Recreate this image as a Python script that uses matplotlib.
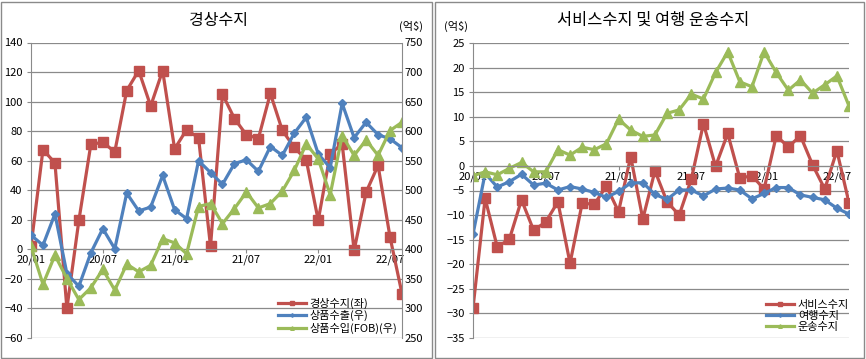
import matplotlib
matplotlib.use("Agg")
import matplotlib.pyplot as plt
from matplotlib.patches import Rectangle

plt.rcParams['font.family'] = ['Noto Sans CJK KR', 'DejaVu Sans']

# monthly data 20/01 ~ 22/08
x = list(range(32))
tick_pos = [0, 6, 12, 18, 24, 30]
tick_labels = ['20/01', '20/07', '21/01', '21/07', '22/01', '22/07']

current = [2, 67.5, 58.5, -40, 19.6, 71, 72.5, 66, 107.5, 121, 97, 121, 68, 81, 75.5, 2,
           105, 88.5, 77.5, 75, 105.5, 80.5, 69, 60.5, 19.6, 64.6, 71.4, -0.7, 38.7, 56.8, 8.3, -30]
exports = [424, 407, 460, 359, 337.5, 394, 435, 401, 495, 465, 471.5, 525, 467, 452, 550, 530,
           510, 545, 551.5, 532, 574, 559, 596.5, 623.5, 561.5, 538, 647, 589, 615, 594, 587, 572]
imports = [405, 341, 390, 350.5, 315, 335, 366, 331, 375, 362, 373, 418, 411, 392.5, 472.5, 477.5,
           443.5, 469, 497, 470, 477.5, 498.5, 533.5, 578.5, 553, 492.5, 592.5, 559, 585, 559, 601, 615]

service = [-28.9, -6.6, -16.5, -14.9, -6.9, -13.1, -11.4, -7.3, -19.8, -7.6, -7.8, -4.1, -9.3, 1.9, -10.8, -1.0,
           -7.3, -10.0, -2.7, 8.6, -0.1, 6.6, -2.5, -2.0, -4.7, 6.1, 3.9, 6.1, 0.2, -4.7, 3.1, -7.5]
travel = [-13.9, -1.5, -4.3, -3.2, -1.7, -3.9, -3.5, -4.9, -4.2, -4.7, -5.4, -6.4, -5.2, -3.5, -3.4, -5.8,
          -6.8, -4.9, -4.9, -6.1, -4.7, -4.5, -4.9, -6.7, -5.6, -4.4, -4.4, -5.9, -6.4, -6.9, -8.6, -9.8]
transport = [-2.0, -1.2, -1.8, -0.5, 0.7, -1.2, -1.2, 3.3, 2.2, 3.8, 3.3, 4.5, 9.5, 7.3, 6.0, 6.3,
             10.7, 11.4, 14.6, 13.6, 19.0, 23.2, 17.1, 16.1, 23.2, 19.0, 15.4, 17.5, 14.8, 16.5, 18.3, 12.2]

RED = '#C0504D'
BLUE = '#4F81BD'
GREEN = '#9BBB59'
GRID = '#8a8a8a'
W, H = 866, 359

fig = plt.figure(figsize=(W / 100, H / 100), dpi=100)


def px_axes(l, t, r, b):
    return fig.add_axes([l / W, 1 - b / H, (r - l) / W, (b - t) / H])


def style_axis(ax):
    ax.set_xlim(0, 31)
    ax.set_xticks(tick_pos)
    ax.set_xticklabels(tick_labels)
    ax.spines['bottom'].set_position(('data', 0))
    for s in ['top', 'right']:
        ax.spines[s].set_visible(False)
    ax.spines['bottom'].set_color(GRID)
    ax.spines['left'].set_color(GRID)
    ax.yaxis.grid(True, color=GRID, lw=0.9)
    ax.set_axisbelow(True)
    ax.tick_params(axis='x', length=3, color=GRID, labelsize=8, pad=1)
    ax.tick_params(axis='y', length=3, color=GRID, labelsize=8, pad=3)


# ---- left panel: current account
ax1 = px_axes(31, 42.5, 402, 338)
style_axis(ax1)
ax1.set_ylim(-60, 140)
ax1.set_yticks(range(-60, 141, 20))
l1, = ax1.plot(x, current, color=RED, lw=2.3, marker='s', ms=6.5, label='경상수지(좌)')

ax2 = ax1.twinx()
ax2.set_ylim(250, 750)
ax2.set_yticks(range(250, 751, 50))
for s in ['top', 'left', 'bottom']:
    ax2.spines[s].set_visible(False)
ax2.spines['right'].set_color(GRID)
ax2.tick_params(axis='y', length=0, labelsize=8, pad=2)
l2, = ax2.plot(x, exports, color=BLUE, lw=2.3, marker='D', ms=4.5, label='상품수출(우)')
l3, = ax2.plot(x, imports, color=GREEN, lw=2.3, marker='^', ms=6.5, label='상품수입(FOB)(우)')

ax2.legend(handles=[l1, l2, l3], loc='upper left', bbox_to_anchor=(272 / W, 1 - 292 / H),
           bbox_transform=fig.transFigure, frameon=False, fontsize=8, handlelength=2.6,
           handletextpad=0.3, labelspacing=0.12, borderpad=0, markerscale=0.4)

fig.text(218 / W, 1 - 20 / H, '경상수지', ha='center', va='center', fontsize=11.5)
fig.text(411 / W, 1 - 26 / H, '(억$)', ha='center', va='center', fontsize=8)

# ---- right panel: services
ax3 = px_axes(473, 43, 849, 338)
style_axis(ax3)
ax3.set_ylim(-35, 25)
ax3.set_yticks(range(-35, 26, 5))
m1, = ax3.plot(x, service, color=RED, lw=2.3, marker='s', ms=6.5, label='서비스수지')
m2, = ax3.plot(x, travel, color=BLUE, lw=2.3, marker='D', ms=4.5, label='여행수지')
m3, = ax3.plot(x, transport, color=GREEN, lw=2.3, marker='^', ms=6.5, label='운송수지')
ax3.legend(handles=[m1, m2, m3], loc='upper left', bbox_to_anchor=(760 / W, 1 - 294 / H),
           bbox_transform=fig.transFigure, frameon=False, fontsize=8, handlelength=2.6,
           handletextpad=0.3, labelspacing=0.12, borderpad=0, markerscale=0.4)

fig.text(653 / W, 1 - 20 / H, '서비스수지 및 여행 운송수지', ha='center', va='center', fontsize=11.8)
fig.text(456 / W, 1 - 26 / H, '(억$)', ha='center', va='center', fontsize=8)

# panel frames
fig.add_artist(Rectangle((1 / W, 1 / H), 431 / W, 356 / H, transform=fig.transFigure,
                         fill=False, ec=GRID, lw=1))
fig.add_artist(Rectangle((435 / W, 1 / H), 429 / W, 356 / H, transform=fig.transFigure,
                         fill=False, ec=GRID, lw=1))

fig.savefig('out.png', dpi=100)
